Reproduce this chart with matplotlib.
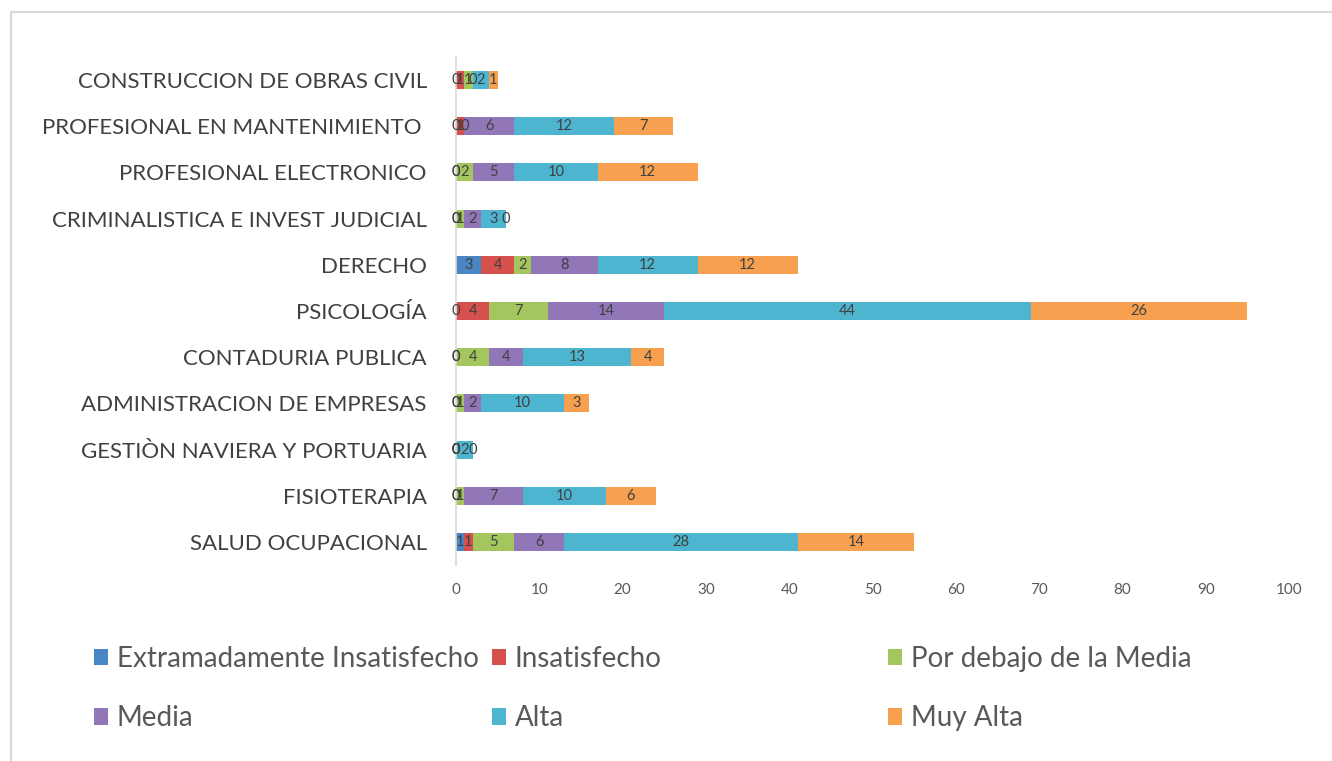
import matplotlib
matplotlib.use("Agg")
import matplotlib.pyplot as plt
from matplotlib.patches import Rectangle, Patch

categories = [
    "SALUD OCUPACIONAL",
    "FISIOTERAPIA",
    "GESTIÒN NAVIERA Y PORTUARIA",
    "ADMINISTRACION DE EMPRESAS",
    "CONTADURIA PUBLICA",
    "PSICOLOGÍA",
    "DERECHO",
    "CRIMINALISTICA E INVEST JUDICIAL",
    "PROFESIONAL ELECTRONICO",
    "PROFESIONAL EN MANTENIMIENTO ",
    "CONSTRUCCION DE OBRAS CIVIL",
]

series_names = [
    "Extramadamente Insatisfecho",
    "Insatisfecho",
    "Por debajo de la Media",
    "Media",
    "Alta",
    "Muy Alta",
]

extremadamente = [1, 0, 0, 0, 0, 0, 3, 0, 0, 0, 0]
insatisfecho   = [1, 0, 0, 0, 0, 4, 4, 0, 0, 1, 1]
por_debajo     = [5, 1, 0, 1, 4, 7, 2, 1, 2, 0, 1]
media          = [6, 7, 0, 2, 4, 14, 8, 2, 5, 6, 0]
alta           = [28, 10, 2, 10, 13, 44, 12, 3, 10, 12, 2]
muy_alta       = [14, 6, 0, 3, 4, 26, 12, 0, 12, 7, 1]

series_values = [extremadamente, insatisfecho, por_debajo, media, alta, muy_alta]
colors = ["#4A85C4", "#D6504D", "#A3C65E", "#9176B8", "#4DB5CF", "#F7A04F"]

x_ticks = [0, 10, 20, 30, 40, 50, 60, 70, 80, 90, 100]

FONT = "Lato"
plt.rcParams["font.family"] = [FONT, "DejaVu Sans"]

W, H = 1332, 761
fig = plt.figure(figsize=(W / 100, H / 100), dpi=100)

# chart area border (right/bottom edges lie outside the picture)
fig.patches.append(Rectangle((11 / W, -0.1), 1.2, 1.1 - 12 / H, transform=fig.transFigure,
                             fill=False, edgecolor="#D9D9D9", linewidth=1.5, zorder=0))

ax = fig.add_axes([456 / W, 1 - 565 / H, (1289 - 456) / W, (565 - 57) / H])

y = list(range(len(categories)))
left = [0] * len(categories)
containers = []
for name, vals, col in zip(series_names, series_values, colors):
    bc = ax.barh(y, vals, left=left, height=0.39, color=col, label=name)
    containers.append(bc)
    left = [a + b for a, b in zip(left, vals)]

for bc in containers:
    ax.bar_label(bc, label_type="center", fontsize=10.5, color="#404040")

ax.set_xlim(0, 100)
ax.set_ylim(-0.5, len(categories) - 0.5)
ax.set_xticks(x_ticks)
ax.set_xticklabels([str(t) for t in x_ticks], fontsize=11, color="#595959")
ax.set_yticks(y)
ax.set_yticklabels(categories, fontsize=16, color="#404040")
ax.tick_params(axis="y", length=0, pad=21)
ax.tick_params(axis="x", length=0, pad=13)
for s in ["top", "right", "bottom"]:
    ax.spines[s].set_visible(False)
ax.spines["left"].set_color("#D9D9D9")
ax.spines["left"].set_linewidth(1.2)

# legend: 3 columns x 2 rows, evenly spaced
col_x = [94 / W, 492 / W, 888 / W]
for ci in range(3):
    idxs = [ci, ci + 3]
    handles = [Patch(facecolor=colors[i], edgecolor="none") for i in idxs]
    labels = [series_names[i] for i in idxs]
    fig.legend(handles, labels, loc="upper left",
               bbox_to_anchor=(col_x[ci], 1 - 646 / H),
               frameon=False, fontsize=20, handlelength=0.52, handleheight=0.52,
               handletextpad=0.3, labelspacing=1.2, borderaxespad=0, borderpad=0,
               labelcolor="#595959")

fig.savefig("out.png", dpi=100)
